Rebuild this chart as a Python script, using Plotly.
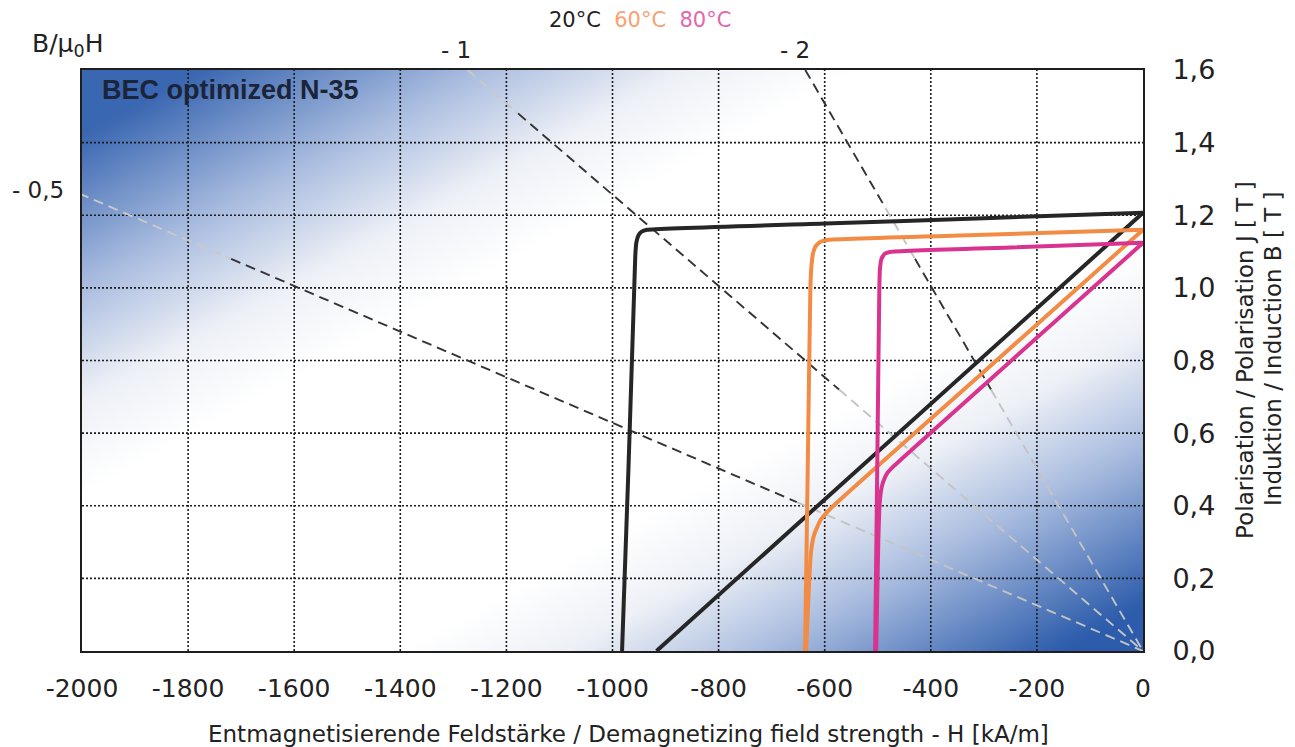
import numpy as np
import plotly.graph_objects as go

# ---------------- data ----------------
x_tick_vals = [-2000, -1800, -1600, -1400, -1200, -1000, -800, -600, -400, -200, 0]
x_tick_text = ["-2000", "-1800", "-1600", "-1400", "-1200", "-1000", "-800", "-600", "-400", "-200", "0"]
y_tick_vals = [0.0, 0.2, 0.4, 0.6, 0.8, 1.0, 1.2, 1.4, 1.6]
y_tick_text = ["0,0", "0,2", "0,4", "0,6", "0,8", "1,0", "1,2", "1,4", "1,6"]

temps = ["20°C", "60°C", "80°C"]
temp_colors = ["#262626", "#f28c45", "#d9338f"]
legend_colors = ["#222222", "#f6a272", "#e466ad"]

# Polarisation J curves (H in kA/m, J in T)
h_j20 = [0, -300, -600, -935, -945, -951, -955, -957, -959, -970, -982]
j_20 = [1.207, 1.192, 1.177, 1.160, 1.155, 1.145, 1.125, 1.09, 1.0, 0.5, 0.0]
h_j60 = [0, -300, -596, -608, -617, -622, -625, -627, -632, -637]
j_60 = [1.160, 1.146, 1.132, 1.127, 1.115, 1.095, 1.06, 1.0, 0.5, 0.0]
h_j80 = [0, -250, -477, -487, -493, -496, -497, -501, -505]
j_80 = [1.124, 1.111, 1.099, 1.094, 1.08, 1.05, 1.0, 0.5, 0.0]

# Induction B curves
h_b20 = [0, -917]
b_20 = [1.207, 0.0]
h_b60 = [0, -300, -590, -608, -620, -626, -629, -632, -635]
b_60 = [1.160, 0.769, 0.391, 0.36, 0.32, 0.27, 0.2, 0.1, 0.0]
h_b80 = [0, -300, -470, -483, -490, -494, -497, -499, -501, -503]
b_80 = [1.124, 0.732, 0.509, 0.488, 0.465, 0.44, 0.39, 0.3, 0.15, 0.0]

# load lines  B/mu0H
load_ratios = [-0.5, -1, -2]
load_labels = ["- 0,5", "- 1", "- 2"]
# (B from, B to, colour) segments of each dashed line
load_segments = [
    [(1.26, 1.08, "#c9c9c9"), (1.08, 0.41, "#333333"), (0.41, 0.0, "#c4c4c4")],
    [(1.6, 1.48, "#c9c9c9"), (1.48, 0.72, "#333333"), (0.72, 0.0, "#c4c4c4")],
    [(1.6, 1.22, "#333333"), (1.22, 1.08, "#c4c4c4"), (1.08, 0.72, "#333333"), (0.72, 0.0, "#c4c4c4")],
]

MU0 = 4 * np.pi * 1e-4  # T per kA/m
X_MIN, X_MAX, Y_MIN, Y_MAX = -2000, 0, 0.0, 1.6

fig = go.Figure()

# ---------------- background gradient ----------------
gx = np.linspace(X_MIN, X_MAX, 121)
gy = np.linspace(Y_MIN, Y_MAX, 81)
U, V = np.meshgrid((gx - X_MIN) / (X_MAX - X_MIN), (gy - Y_MIN) / (Y_MAX - Y_MIN))
D = V - U
T = np.clip((np.abs(D) - 0.30) / 0.62, 0, 1)
T = np.where(D > 0, np.clip((D - 0.27) / 0.62, 0, 1) * 0.95, T)
fig.add_trace(go.Heatmap(
    x=gx, y=gy, z=T, zmin=0, zmax=1, zsmooth="best", showscale=False, hoverinfo="skip",
    colorscale=[[0, "#ffffff"], [0.25, "#edf0f6"], [0.55, "#a9bcdf"], [1.0, "#2c5cab"]],
))

# ---------------- grid ----------------
gxs, gys = [], []
for xv in x_tick_vals[1:-1]:
    gxs += [xv, xv, None]
    gys += [Y_MIN, Y_MAX, None]
for yv in y_tick_vals[1:-1]:
    gxs += [X_MIN, X_MAX, None]
    gys += [yv, yv, None]
fig.add_trace(go.Scatter(x=gxs, y=gys, mode="lines", hoverinfo="skip", showlegend=False,
                         line=dict(color="#1c1c1c", width=1.6, dash="2px,2px")))

# ---------------- load lines ----------------
for ratio, segs in zip(load_ratios, load_segments):
    for b0, b1, col in segs:
        h0 = b0 / (ratio * MU0)
        h1 = b1 / (ratio * MU0)
        fig.add_trace(go.Scatter(x=[h0, h1], y=[b0, b1], mode="lines", hoverinfo="skip",
                                 showlegend=False,
                                 line=dict(color=col, width=1.9, dash="10px,6px")))

# ---------------- curves ----------------
curves = [(h_j20, j_20, h_b20, b_20), (h_j60, j_60, h_b60, b_60), (h_j80, j_80, h_b80, b_80)]
for (hj, jj, hb, bb), col, name in zip(curves, temp_colors, temps):
    fig.add_trace(go.Scatter(x=hj, y=jj, mode="lines", name=name, showlegend=False,
                             line=dict(color=col, width=4, shape="spline", smoothing=0.4)))
    fig.add_trace(go.Scatter(x=hb, y=bb, mode="lines", name=name, showlegend=False,
                             line=dict(color=col, width=4, shape="spline", smoothing=0.4)))

# ---------------- annotations ----------------
FONT = "DejaVu Sans"
# load line labels
b_left = load_ratios[0] * MU0 * X_MIN
fig.add_annotation(x=X_MIN, y=b_left, xref="x", yref="y", text=load_labels[0], showarrow=False,
                   xanchor="right", yanchor="middle", xshift=-16, yshift=5,
                   font=dict(family=FONT, size=23, color="#222"))
for ratio, lab, xs in zip(load_ratios[1:], load_labels[1:], [-12, -10]):
    h_top = Y_MAX / (ratio * MU0)
    fig.add_annotation(x=h_top, y=Y_MAX, xref="x", yref="y", text=lab, showarrow=False,
                       xanchor="center", yanchor="middle", yshift=20, xshift=xs,
                       font=dict(family=FONT, size=23, color="#222"))

fig.add_annotation(xref="paper", yref="paper", x=-0.049, y=1.043, xanchor="left", yanchor="middle",
                   text="B/μ<sub>0</sub>H", showarrow=False,
                   font=dict(family=FONT, size=25, color="#222"))
legend_txt = "&nbsp;&nbsp;".join(
    f"<span style='color:{c}'>{t}</span>" for t, c in zip(temps, legend_colors))
fig.add_annotation(xref="paper", yref="paper", x=0.526, y=1.086, xanchor="center", yanchor="middle",
                   text=legend_txt, showarrow=False,
                   font=dict(family=FONT, size=21, color="#222"))
fig.add_annotation(xref="paper", yref="paper", x=0.017, y=0.9656, xanchor="left", yanchor="middle",
                   text="<b>BEC optimized N-35</b>", showarrow=False,
                   font=dict(family="Liberation Sans", size=27, color="#1b2438"))
fig.add_annotation(xref="paper", yref="paper", x=1.0961, y=0.501, xanchor="center", yanchor="middle",
                   text="Polarisation / Polarisation J [ T ]", textangle=-90, showarrow=False,
                   font=dict(family=FONT, size=23, color="#222"))
fig.add_annotation(xref="paper", yref="paper", x=1.1225, y=0.5215, xanchor="center", yanchor="middle",
                   text="Induktion / Induction B [ T ]", textangle=-90, showarrow=False,
                   font=dict(family=FONT, size=23, color="#222"))
fig.add_annotation(xref="paper", yref="paper", x=0.515, y=-0.142, xanchor="center", yanchor="middle",
                   text="Entmagnetisierende Feldstärke / Demagnetizing field strength - H [kA/m]",
                   showarrow=False, font=dict(family=FONT, size=23, color="#222"))

fig.update_xaxes(range=[X_MIN, X_MAX], tickmode="array", tickvals=x_tick_vals, ticktext=x_tick_text,
                 showgrid=False, zeroline=False, showline=True, mirror=True, linecolor="#1e1e1e",
                 linewidth=2, ticks="", ticklabelstandoff=14, automargin=False,
                 tickfont=dict(family=FONT, size=25, color="#222"))
fig.update_yaxes(range=[Y_MIN, Y_MAX], side="right", tickmode="array", tickvals=y_tick_vals,
                 ticktext=y_tick_text, showgrid=False, zeroline=False, showline=True, mirror=True,
                 linecolor="#1e1e1e", linewidth=2, ticks="", ticklabelstandoff=22, automargin=False,
                 tickfont=dict(family=FONT, size=27, color="#222"))

# the page body adds 8 px around the figure, so the figure is 16 px smaller than the window
fig.update_layout(width=1287, height=739, margin=dict(l=74, r=152, t=62, b=96),
                  paper_bgcolor="white", plot_bgcolor="white", showlegend=False)

fig.write_html("out.html")
